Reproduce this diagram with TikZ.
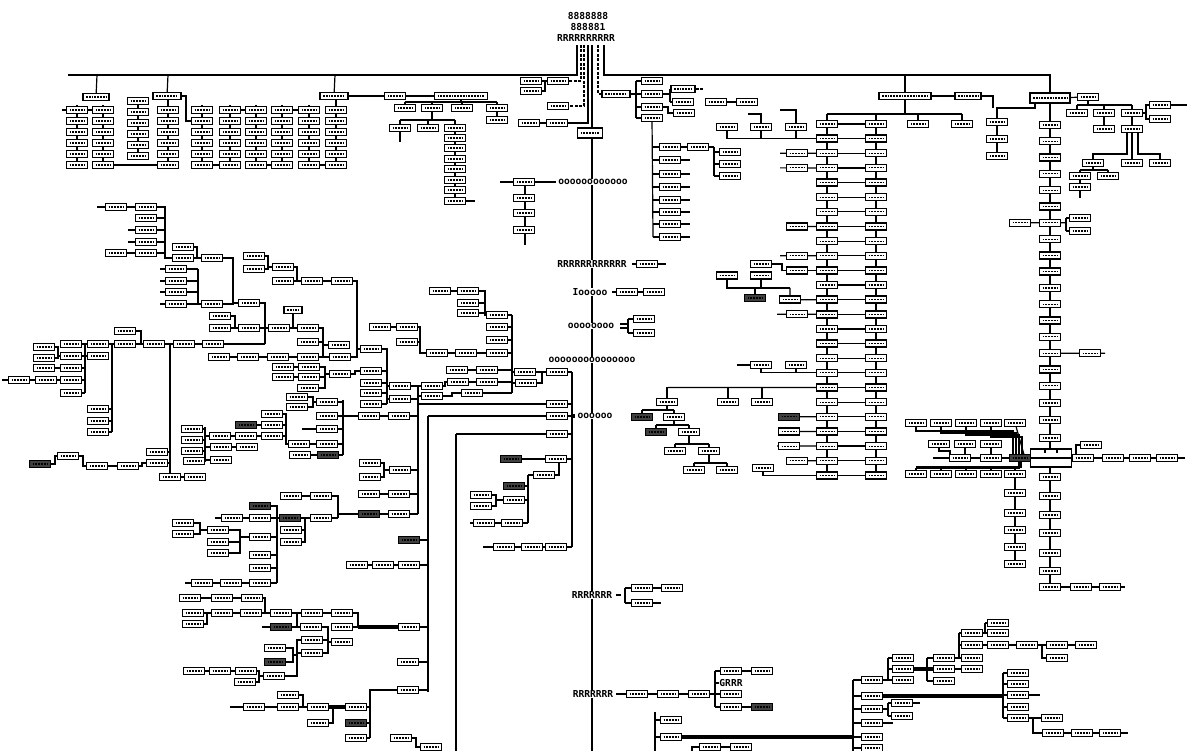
\documentclass[tikz,border=0pt]{standalone}
\usepackage{fontspec}
\newfontfamily\lf{DejaVu Sans Mono}
\pgfdeclarelayer{bg}
\pgfsetlayers{bg,main}
\tikzset{
  bx/.style={draw,line width=1.4pt,minimum width=21pt,minimum height=7pt,inner sep=0pt,fill=white,
    path picture={\draw[line width=1.1pt,dash pattern=on 1.8pt off 1pt]
      ([xshift=3pt]path picture bounding box.west) -- ([xshift=-3pt]path picture bounding box.east);}},
  dk/.style={bx,fill=black!75},
  pl/.style={draw,line width=1.4pt,fill=white,inner sep=0pt},
  ln/.style={line width=1.2pt},
  dl/.style={line width=1.2pt,dash pattern=on 3pt off 1.5pt},
  tk/.style={line width=3.8pt},
  lab/.style={font=\lf\bfseries\fontsize{9.6}{10}\selectfont,inner sep=0.6pt,fill=white},
}
\newcommand\Bx[3]{\node[bx] (#1) at (#2,#3) {};}
\newcommand\Dk[3]{\node[dk] (#1) at (#2,#3) {};}
\newcommand\Wb[4]{\node[bx,minimum width=#4pt] (#1) at (#2,#3) {};}
\begin{document}
\begin{tikzpicture}[x=1pt,y=-1pt]
\useasboundingbox (0,0) rectangle (1187,751);
% ---------------- labels
\node[lab] (t1) at (588,16) {8888888};
\node[lab] (t2) at (588,27) {888881};
\node[lab] (t3) at (586,38) {RRRRRRRRRR};
\node[lab] (L1) at (593,182) {oooooooooooo};
\node[lab] (L2) at (592,264) {RRRRRRRRRRRR};
\node[lab] (L3) at (590,292) {Iooooo};
\node[lab] (L4) at (591,326) {oooooooo};
\node[lab] (L5) at (592,360) {ooooooooooooooo};
\node[lab] (L6) at (595,416) {oooooo};
\node[lab] (L7) at (592,595) {RRRRRRR};
\node[lab] (L8) at (593,694) {RRRRRRR};
\node[lab] (m25) at (731,683) {GRRR};
\fill (571,414) rectangle (575,418);
% ---------------- spine top
\node[bx,minimum width=25pt,minimum height=10pt] (sp0) at (590,133) {};
% ---------------- top-left grid
\Wb{g0}{96}{97}{26}
\foreach \r [count=\i] in {110,121,132,143,154,165}{
  \foreach \c/\xx in {A/77,B/103,D/168,E/202,F/230,G/256,H/282,I/309,J/336}{\Bx{g\c\i}{\xx}{\r}}}
\foreach \r [count=\i] in {101,112,123,134,145,156}{\Bx{gC\i}{138}{\r}}
\Wb{gD}{167}{96}{28}
\Wb{gJ}{334}{96}{28}
\Bx{q1}{395}{96}
\Wb{q2}{461}{96}{53}
\Bx{q3}{405}{108} \Bx{q4}{432}{108} \Bx{q5}{462}{108} \Bx{q6}{497}{108}
\Bx{q7}{400}{128} \Bx{q8}{428}{128} \Bx{q10}{497}{120}
\foreach \r [count=\i] in {128,138,148,159,169,180,190,201}{\Bx{x\i}{455}{\r}}
% ---------------- near spine top
\Bx{c1}{531}{81} \Bx{c2}{558}{81} \Bx{c3}{531}{91} \Bx{c4}{558}{106} \Bx{c5}{529}{123} \Bx{c6}{557}{123}
\Wb{r0}{616}{94}{28}
\foreach \r [count=\i] in {81,94,107,118}{\Bx{r\i}{652}{\r}}
\Wb{r5}{683}{89}{24} \Bx{r6}{683}{102} \Bx{r7}{684}{113}
\Bx{r8}{716}{102} \Bx{r9}{747}{102}
\foreach \r [count=\i] in {147,160,174,187,200,212,224,237}{\Bx{w\i}{670}{\r}}
\Bx{w9}{698}{147}
\Bx{w10}{730}{152} \Bx{w11}{730}{164} \Bx{w12}{730}{176}
% ---------------- right-middle double column
\foreach \k in {0,...,24}{\pgfmathsetmacro\yy{124+14.64*\k}\Bx{P\k}{827}{\yy}\Bx{Q\k}{876}{\yy}}
\Bx{E1}{918}{124} \Bx{E2}{962}{124}
\Bx{u1}{727}{127} \Bx{u2}{761}{127} \Bx{u3}{796}{127}
\Bx{u4}{797}{153.3} \Bx{u5}{797}{167.9} \Bx{u6}{797}{226.5} \Bx{u7}{797}{255.8} \Bx{u8}{797}{270.4}
\Bx{u9}{790}{299.7}
\Bx{u10}{761}{264} \Bx{u11}{761}{275.5} \Bx{u12}{727}{275.5} \Dk{u13}{755}{298}
\Bx{u14}{797}{314.3}
\Bx{u15}{761}{365} \Bx{u16}{796}{365}
\Dk{u17}{789}{416.8} \Bx{u18}{789}{431.4} \Bx{u19}{789}{446.1} \Bx{u20}{797}{460.7}
\Bx{v1}{667}{402} \Bx{v2}{728}{402} \Bx{v3}{762}{402}
\Dk{v4}{642}{417} \Bx{v5}{674}{417} \Dk{v6}{656}{432} \Bx{v7}{689}{432}
\Bx{v8}{675}{451} \Bx{v9}{709}{451} \Bx{v10}{694}{470} \Bx{v11}{727}{470} \Bx{v12}{763}{468}
% ---------------- right column
\Wb{f0}{905}{96}{52} \Wb{f1}{968}{96}{26}
\node[bx,minimum width=40pt,minimum height=10pt] (RH) at (1050,98) {};
\foreach \r [count=\i] in {122,139,156}{\Bx{y\i}{997}{\r}}
\foreach \k in {0,...,16}{\pgfmathsetmacro\yy{125+16.3*\k}\Bx{R\k}{1050}{\yy}}
\Bx{R17}{1050}{403} \Bx{R18}{1050}{420} \Bx{R19}{1050}{438}
\node[pl,minimum width=41pt,minimum height=18pt] (RB) at (1051,458) {};
\foreach \r [count=\i from 20] in {477,496,515,533,553,571,587}{\Bx{R\i}{1050}{\r}}
\Bx{f5}{1088}{97} \Bx{f6}{1077}{113} \Bx{f7}{1104}{113} \Bx{f8}{1132}{113}
\Bx{f9}{1160}{105} \Bx{f10}{1160}{119} \Bx{f11}{1104}{129} \Bx{f12}{1132}{129}
\Bx{f13}{1093}{163} \Bx{f14}{1132}{163} \Bx{f15}{1160}{163}
\Bx{f16}{1080}{176} \Bx{f17}{1108}{176} \Bx{f18}{1080}{187}
\Bx{f19}{1020}{222.8} \Bx{f20}{1080}{218} \Bx{f21}{1080}{231}
\Bx{f22}{1090}{353.2}
\Dk{f23}{1020}{458} \Bx{f24}{991}{458} \Bx{f25}{960}{458}
\Bx{f26}{1083}{458} \Bx{f27}{1091}{445} \Bx{f28}{1113}{458} \Bx{f29}{1140}{458} \Bx{f30}{1167}{458}
\Bx{f31}{939}{444} \Bx{f32}{965}{444} \Bx{f33}{991}{444}
\Bx{f34}{916}{423} \Bx{f35}{941}{423} \Bx{f36}{966}{423} \Bx{f37}{991}{423} \Bx{f38}{1015}{423}
\Bx{f39}{916}{474} \Bx{f40}{941}{474} \Bx{f41}{966}{474} \Bx{f42}{991}{474} \Bx{f43}{1015}{474}
\foreach \r [count=\i from 44] in {493,513,530,547,564}{\Bx{f\i}{1015}{\r}}
\Bx{f49}{1081}{587} \Bx{f50}{1110}{587}
% ---------------- spine attachments
\Bx{m1}{524}{182} \Bx{m2}{524}{198} \Bx{m3}{524}{213} \Bx{m4}{524}{230}
\Bx{m5}{647}{264} \Bx{m6}{627}{292} \Bx{m7}{654}{292} \Bx{m8}{644}{319} \Bx{m9}{644}{333}
\Bx{m10}{642}{588} \Bx{m11}{642}{603} \Bx{m12}{672}{588}
\Bx{m13}{637}{694} \Bx{m14}{668}{694} \Bx{m15}{699}{694}
\Bx{m16}{731}{671} \Bx{m17}{762}{671} \Bx{m18}{731}{694} \Bx{m19}{731}{707} \Dk{m20}{762}{707}
\Bx{m21}{671}{720} \Bx{m22}{671}{737} \Bx{m23}{710}{747} \Bx{m24}{741}{747}
% ---------------- bottom right
\Bx{n1}{872}{680} \Bx{n2}{872}{696} \Bx{n3}{872}{709} \Bx{n4}{872}{723} \Bx{n5}{872}{737} \Bx{n6}{872}{748}
\Bx{n7}{902}{703} \Bx{n8}{902}{716}
\Bx{n9}{903}{658} \Bx{n10}{903}{669} \Bx{n11}{903}{680}
\Bx{n12}{944}{658} \Bx{n13}{944}{669} \Bx{n14}{944}{681}
\Bx{n15}{972}{658} \Bx{n16}{972}{633} \Bx{n17}{972}{645} \Bx{n18}{998}{623} \Bx{n19}{998}{633}
\Bx{n20}{998}{645} \Bx{n21}{1027}{645} \Bx{n22}{1057}{645} \Bx{n23}{1086}{645} \Bx{n24}{1057}{658}
\Bx{n25}{972}{669}
\foreach \r [count=\i from 26] in {673,684,695,707,718}{\Bx{n\i}{1018}{\r}}
\Bx{n31}{1052}{718} \Bx{n32}{1053}{733} \Bx{n33}{1082}{733} \Bx{n34}{1110}{733}
% ---------------- left-middle
\Bx{a1}{116}{207} \Bx{a2}{146}{207}
\foreach \r [count=\i from 3] in {218,230,242,253}{\Bx{a\i}{146}{\r}}
\Bx{a7}{116}{253}
\Bx{a8}{183}{247} \Bx{a9}{183}{258} \Bx{a10}{212}{258} \Bx{a11}{249}{303}
\foreach \r [count=\i from 12] in {269,281,292,304}{\Bx{a\i}{176}{\r}}
\Bx{a16}{212}{304}
\Bx{a17}{220}{316} \Bx{a18}{220}{328} \Bx{a19}{249}{328} \Bx{a20}{279}{328} \Bx{a21}{308}{328}
\node[bx,minimum width=18pt] (a22) at (293,310) {};
\Bx{a23}{219}{357} \Bx{a24}{248}{357} \Bx{a25}{278}{357} \Bx{a26}{308}{357} \Bx{a27}{340}{357}
\Bx{a28}{308}{342} \Bx{a29}{339}{345}
\Bx{b1}{254}{256} \Bx{b2}{254}{269} \Bx{b3}{283}{267} \Bx{b4}{283}{281} \Bx{b5}{312}{281} \Bx{b6}{342}{281} \Bx{b7}{371}{349}
\Bx{k1}{440}{291} \Bx{k2}{468}{291} \Bx{k3}{468}{303} \Bx{k4}{468}{313} \Bx{k5}{497}{315} \Bx{k6}{497}{327} \Bx{k7}{497}{340} \Bx{k8}{497}{353}
\Bx{k9}{380}{327} \Bx{k10}{407}{327} \Bx{k11}{407}{342} \Bx{k12}{437}{353} \Bx{k13}{466}{353}
\Bx{k14}{457}{370} \Bx{k15}{487}{370} \Bx{k16}{458}{382} \Bx{k17}{487}{382} \Bx{k18}{472}{393}
\Bx{k19}{525}{372} \Bx{k20}{557}{372} \Bx{k21}{526}{383}
\foreach \xx [count=\i] in {71,98,125,154,184,213}{\Bx{e\i}{\xx}{344}}
\Bx{e7}{125}{331}
\Bx{e8}{98}{409} \Bx{e9}{98}{421} \Bx{e10}{98}{432}
\Bx{e11}{44}{347} \Bx{e12}{44}{358} \Bx{e13}{44}{368} \Bx{e14}{71}{356} \Bx{e15}{71}{368} \Bx{e16}{98}{356}
\Bx{e17}{19}{380} \Bx{e18}{46}{380} \Bx{e19}{71}{380} \Bx{e20}{71}{393}
\Dk{e21}{40}{464} \Bx{e22}{68}{456} \Bx{e23}{97}{466} \Bx{e24}{128}{466} \Bx{e25}{157}{452} \Bx{e26}{157}{463} \Bx{e27}{170}{477} \Bx{e28}{195}{477}
\Bx{h1}{192}{429} \Bx{h2}{192}{440} \Bx{h3}{192}{451} \Bx{h4}{194}{461}
\Bx{h5}{220}{436} \Bx{h6}{221}{447} \Bx{h7}{221}{460}
\Dk{h8}{246}{425} \Bx{h9}{272}{425} \Bx{h10}{246}{436} \Bx{h11}{272}{436} \Bx{h12}{247}{447} \Bx{h13}{272}{414}
\Bx{h14}{299}{444} \Bx{h15}{327}{444} \Bx{h16}{300}{455} \Dk{h17}{328}{455}
\Bx{h18}{297}{397} \Bx{h19}{297}{407} \Bx{h20}{327}{402} \Bx{h21}{327}{416} \Bx{h22}{369}{416} \Bx{h23}{399}{416} \Bx{h24}{327}{429}
\Bx{i1}{283}{367} \Bx{i2}{309}{367} \Bx{i3}{283}{377} \Bx{i4}{309}{377} \Bx{i5}{340}{374} \Bx{i6}{308}{388}
\Bx{i7}{371}{371} \Bx{i8}{371}{383} \Bx{i9}{371}{393} \Bx{i10}{371}{404}
\Bx{i11}{400}{386} \Bx{i12}{400}{399} \Bx{i13}{432}{386} \Bx{i14}{432}{396}
\Bx{j1}{557}{404} \Bx{j2}{557}{416} \Bx{j3}{557}{434} \Dk{j4}{511}{459} \Bx{j5}{556}{459} \Bx{j6}{544}{475}
\Dk{j7}{514}{486} \Bx{j8}{481}{495} \Bx{j9}{481}{506} \Bx{j10}{514}{500} \Bx{j11}{484}{523} \Bx{j12}{512}{523}
\Bx{j13}{504}{547} \Bx{j14}{532}{547} \Bx{j15}{556}{547}
% ---------------- lower-left
\Bx{o1}{369}{494} \Bx{o2}{399}{494} \Dk{o3}{369}{514} \Bx{o4}{399}{514}
\Dk{o5}{409}{540} \Bx{o6}{357}{565} \Bx{o7}{383}{565} \Bx{o8}{409}{565}
\Bx{o9}{291}{496} \Bx{o10}{321}{496} \Dk{o11}{260}{506}
\Bx{o12}{232}{518} \Bx{o13}{260}{518} \Dk{o14}{290}{518} \Bx{o15}{321}{518}
\Bx{o16}{291}{530} \Bx{o17}{291}{542}
\Bx{o18}{260}{537} \Bx{o19}{260}{555} \Bx{o20}{260}{568} \Bx{o23}{260}{583}
\Bx{o21}{183}{523} \Bx{o22}{183}{534} \Bx{o24}{218}{530} \Bx{o25}{218}{542} \Bx{o26}{218}{553}
\Bx{o27}{202}{583} \Bx{o28}{231}{583}
\Bx{o29}{190}{598} \Bx{o30}{222}{598} \Bx{o31}{252}{598}
\Bx{o32}{193}{613} \Bx{o33}{222}{613} \Bx{o34}{251}{613} \Bx{o35}{193}{624}
\Bx{o36}{281}{613} \Bx{o37}{312}{613} \Bx{o38}{342}{613}
\Bx{o39}{409}{627} \Bx{o40}{342}{627} \Dk{o41}{281}{627} \Bx{o42}{311}{627}
\Bx{o43}{342}{642} \Bx{o44}{312}{640} \Bx{o45}{312}{653} \Bx{o46}{275}{648} \Dk{o47}{275}{662}
\Bx{o48}{194}{671} \Bx{o49}{220}{671} \Bx{o50}{246}{671} \Bx{o51}{245}{682} \Bx{o52}{274}{676}
\Bx{o53}{408}{662} \Bx{o54}{408}{690}
\Bx{o55}{356}{707} \Dk{o56}{356}{723} \Bx{o57}{356}{738}
\Bx{o58}{318}{707} \Bx{o59}{288}{695} \Bx{o60}{288}{707} \Bx{o61}{254}{707} \Bx{o62}{318}{723}
\Bx{o63}{401}{738} \Bx{o64}{431}{747}
\Bx{p1}{400}{470} \Bx{p2}{370}{463} \Bx{p3}{370}{477}
% big box internals
\draw[ln] (RB.west) -- (RB.east);
\draw[ln] (1045,449) -- (1045,453); \draw[ln] (1057,449) -- (1057,453);
% ================= connectors (behind boxes)
\begin{pgfonlayer}{bg}
% header lines
\draw[ln] (577,45) -- (577,75) -- (68,75);
\draw[dl] (581,45) -- (581,81) -- (c2);
\draw[dl] (584,45) -- (584,106) -- (c4);
\draw[ln] (588,45) -- (588,123) -- (c6);
\draw[ln] (592,45) -- (592,751);
\draw[dl] (598,45) -- (598,94) -- (r0);
\draw[ln] (604,45) -- (604,75) -- (1050,75) -- (RH);
\draw[ln] (905,75) -- (f0);
\draw[ln] (97,75) -- (g0);
\draw[ln] (168,75) -- (gD);
\draw[ln] (335,75) -- (gJ);
% grid
\foreach \xx in {77,103,202,230,256,282,309}{\draw[ln] (\xx,105) -- (\xx,165);}
\draw[ln] (336,96) -- (336,165); \draw[ln] (168,96) -- (168,165); \draw[ln] (138,97) -- (138,156);
\draw[ln] (62,110) -- (gB1);
\draw[ln] (gF1) -- (gG1); \draw[ln] (gH1) -- (gI1);
\draw[ln] (gE6) -- (gF6); \draw[ln] (gG6) -- (gH6); \draw[ln] (gI6) -- (gJ6);
\draw[ln] (gB6) -- (gD6);
\draw[ln] (gD) -- (186,96) -- (186,121) -- (gE2);
\draw[ln] (gJ) -- (q1) -- (q2);
\draw[ln] (q2) -- (461,102); \draw[ln] (405,102) -- (497,102);
\draw[ln] (q3) -- (405,102); \draw[ln] (q4) -- (432,102); \draw[ln] (q5) -- (462,102); \draw[ln] (q6) -- (497,102);
\draw[ln] (q6) -- (q10);
\draw[ln] (q4) -- (432,120); \draw[ln] (400,120) -- (455,120);
\draw[ln] (q7) -- (400,120); \draw[ln] (q8) -- (428,120); \draw[ln] (x1) -- (455,120);
\draw[ln] (q7) -- (400,142);
\draw[ln] (x1) -- (x8) -- (475,201);
% near spine top
\draw[ln] (c1) -- (c2); \draw[ln] (c3) -- (545,91) -- (545,81); \draw[ln] (c5) -- (c6);
\draw[ln] (r0) -- (r2); \draw[ln] (636,81) -- (636,118);
\draw[ln] (636,81) -- (r1); \draw[ln] (636,107) -- (r3); \draw[ln] (636,118) -- (r4);
\draw[ln] (r2) -- (670,94); \draw[ln] (670,89) -- (670,102); \draw[ln] (670,89) -- (r5); \draw[ln] (670,102) -- (r6);
\draw[dl] (r5) -- (703,89);
\draw[ln] (r3) -- (668,107) -- (668,113) -- (r7);
\draw[ln] (r8) -- (r9);
\draw[ln] (r4) -- (653,237);
\foreach \i in {1,...,8}{\draw[ln] (w\i) -- ++(-17,0);}
\foreach \i in {2,...,8}{\draw[ln] (w\i) -- ++(20,0);}
\draw[ln] (w1) -- (w9) -- (714,147); \draw[ln] (714,147) -- (714,176);
\draw[ln] (714,152) -- (w10); \draw[ln] (714,164) -- (w11); \draw[ln] (714,176) -- (w12);
% double column
\draw[ln] (827,114) -- (P24); \draw[ln] (876,114) -- (Q24);
\foreach \k in {0,...,24}{\draw[ln] (P\k) -- (Q\k);}
\draw[ln] (827,114) -- (962,114); \draw[ln] (f0) -- (905,114);
\draw[ln] (918,114) -- (E1); \draw[ln] (962,114) -- (E2);
\draw[ln] (u1) |- (P1); \draw[ln] (u2) -- (u2 |- P1); \draw[ln] (u3) -- (u3 |- P1);
\draw[ln] (u2) -- (761,114) -- (748,114); \draw[ln] (u3) -- (796,110) -- (780,110);
\draw[ln] (780,153.3) -- (P2); \draw[ln] (780,167.9) -- (P3);
\draw[ln] (u6) -- (P7); \draw[ln] (780,255.8) -- (P9);
\draw[ln] (u10) -- (782,264) -- (782,270.4) -- (P10);
\draw[ln] (u12) -- (727,288) -- (790,288); \draw[ln] (u11) -- (761,288);
\draw[ln] (755,288) -- (u13); \draw[ln] (790,288) -- (u9) -- (P12);
\draw[ln] (777,314.3) -- (P13);
\draw[ln] (737,365) -- (u15); \draw[ln] (u15) |- (P17); \draw[ln] (u16) -- (u16 |- P17);
\draw[ln] (668,387.5) -- (P18);
\draw[ln] (v1) -- (667,387.5); \draw[ln] (v2) -- (728,387.5); \draw[ln] (v3) -- (762,387.5);
\draw[ln] (u17) -- (P20); \draw[ln] (u18) -- (P21); \draw[ln] (777,446.1) -- (P22); \draw[ln] (u20) -- (P23);
\draw[ln] (v12) |- (P24);
\draw[ln] (v1) -- (667,410); \draw[ln] (642,410) -- (674,410); \draw[ln] (642,410) -- (v4); \draw[ln] (674,410) -- (v5);
\draw[ln] (v5) -- (674,425); \draw[ln] (656,425) -- (689,425); \draw[ln] (656,425) -- (v6); \draw[ln] (689,425) -- (v7);
\draw[ln] (v7) -- (689,444); \draw[ln] (675,444) -- (709,444); \draw[ln] (675,444) -- (v8); \draw[ln] (709,444) -- (v9);
\draw[ln] (v9) -- (709,463); \draw[ln] (694,463) -- (727,463); \draw[ln] (694,463) -- (v10); \draw[ln] (727,463) -- (v11);
% right column
\draw[ln] (f0) -- (f1) -- (993,96) -- (993,108);
\draw[ln] (1035,98) -- (1035,108) -- (997,108) -- (y3);
\draw[ln] (1050,98) -- (R26);
\draw[ln] (RH) -- (f5); \draw[ln] (f5) -- (1088,105); \draw[ln] (1077,105) -- (1132,105);
\draw[ln] (1077,105) -- (f6); \draw[ln] (1104,105) -- (f7); \draw[ln] (1132,105) -- (f8);
\draw[ln] (f8) -- (1146,113) -- (1146,105) -- (f9) -- (1187,105); \draw[ln] (1146,113) -- (1146,119) -- (f10);
\draw[ln] (f7) -- (f11); \draw[ln] (f8) -- (f12);
\draw[ln] (1127,129) -- (1127,154) -- (1093,154) -- (f13); \draw[ln] (f12) -- (f14);
\draw[ln] (1138,129) -- (1138,154) -- (1160,154) -- (f15);
\draw[ln] (f13) -- (1093,170); \draw[ln] (1080,170) -- (1108,170); \draw[ln] (1080,170) -- (f16); \draw[ln] (1108,170) -- (f17);
\draw[ln] (f16) -- (f18) -- (1080,198);
\draw[ln] (f19) -- (R6); \draw[ln] (R6) -- (1066,222.8); \draw[ln] (1066,218) -- (1066,231);
\draw[ln] (1066,218) -- (f20); \draw[ln] (1066,231) -- (f21);
\draw[ln] (R14) -- (f22) -- (1105,353.2);
\draw[ln] (933,458) -- (f25) -- (f24) -- (f23) -- (RB) -- (f26) -- (f28) -- (f29) -- (f30) -- (1185,458);
\draw[ln] (f27) -- (1076,445) -- (1076,458);
\draw[ln] (f31) -- (939,451) -- (950,451) -- (950,458); \draw[ln] (f32) -- (965,458); \draw[ln] (f33) -- (991,458);
\draw[ln] (f34) -- (916,431) -- (1013,431) -- (1013,458);
\draw[ln] (f35) -- (941,433) -- (1016,433) -- (1016,458);
\draw[ln] (f36) -- (966,435) -- (1019,435) -- (1019,458);
\draw[ln] (f37) -- (991,437) -- (1022,437) -- (1022,458);
\draw[ln] (f38) -- (1025,458);
\draw[tk] (916,467.5) -- (1020,467.5); \draw[tk] (f23) -- (1020,467.5);
\foreach \xx in {916,941,966,991,1015}{\draw[ln] (\xx,474) -- (\xx,467.5);}
\draw[ln] (f43) -- (f48);
\draw[ln] (R26) -- (f49) -- (f50) -- (1125,587);
% spine attachments
\draw[ln] (500,182) -- (m1) -- (556,182); \draw[ln] (525,182) -- (525,245);
\draw[ln] (632,264) -- (m5) -- (666,264);
\draw[ln] (612,292) -- (m6) -- (m7);
\draw[ln] (620,324) -- (628,324); \draw[ln] (620,328) -- (628,328); \draw[ln] (628,319) -- (628,333);
\draw[ln] (628,319) -- (m8); \draw[ln] (628,333) -- (m9);
\draw[ln] (616,595) -- (621,595); \draw[ln] (625,588) -- (625,603);
\draw[ln] (625,588) -- (m10) -- (m12); \draw[ln] (625,603) -- (m11) -- (661,603);
\draw[ln] (616,694) -- (m13) -- (m14) -- (m15) -- (715,694); \draw[ln] (715,671) -- (715,707);
\draw[ln] (715,671) -- (m16) -- (m17); \draw[ln] (715,683) -- (m25); \draw[ln] (715,694) -- (m18);
\draw[ln] (715,707) -- (m19) -- (m20);
\draw[ln] (655,712) -- (655,751); \draw[ln] (655,720) -- (m21); \draw[ln] (655,737) -- (m22);
\draw[tk] (m22) -- (853,737);
\draw[ln] (692,751) -- (692,747) -- (m23) -- (m24);
% bottom right
\draw[ln] (853,680) -- (853,751);
\draw[ln] (853,680) -- (n1); \draw[ln] (853,696) -- (n2); \draw[ln] (853,709) -- (n3);
\draw[ln] (853,723) -- (n4); \draw[ln] (853,737) -- (n5); \draw[ln] (853,748) -- (n6);
\draw[tk] (n2) -- (1003,696);
\draw[ln] (n3) -- (888,709); \draw[ln] (888,703) -- (888,716); \draw[ln] (888,703) -- (n7) -- (920,703); \draw[ln] (888,716) -- (n8);
\draw[ln] (n4) -- (893,723);
\draw[ln] (n1) -- (888,680); \draw[ln] (888,658) -- (888,680);
\draw[ln] (888,658) -- (n9); \draw[ln] (888,669) -- (n10); \draw[ln] (888,680) -- (n11);
\draw[tk] (n10) -- (927,669) -- (n13); \draw[ln] (927,658) -- (927,681);
\draw[ln] (927,658) -- (n12); \draw[ln] (927,681) -- (n14);
\draw[ln] (n12) -- (n15); \draw[ln] (959,633) -- (959,658); \draw[ln] (959,633) -- (n16); \draw[ln] (959,645) -- (n17);
\draw[ln] (n16) -- (n19); \draw[ln] (985,623) -- (985,633); \draw[ln] (985,623) -- (n18);
\draw[ln] (n17) -- (n20) -- (n21) -- (n22) -- (n23); \draw[ln] (1042,645) -- (1042,658) -- (n24);
\draw[ln] (n13) -- (n25);
\draw[ln] (1003,673) -- (1003,718);
\draw[ln] (1003,673) -- (n26); \draw[ln] (1003,684) -- (n27); \draw[ln] (1003,695) -- (n28); \draw[ln] (1003,707) -- (n29); \draw[ln] (1003,718) -- (n30);
\draw[ln] (n28) -- (1040,695);
\draw[ln] (n30) -- (n31); \draw[ln] (1033,718) -- (1033,733) -- (n32) -- (n33) -- (n34) -- (1128,733);
% left-middle
\draw[ln] (97,207) -- (a1) -- (a2) -- (165,207) -- (165,258) -- (a9) -- (a10) -- (233,258) -- (233,304) -- (a16);
\draw[ln] (233,303) -- (a11) -- (265,303) -- (265,344);
\foreach \i in {3,4,5,6}{\draw[ln] (a\i) -- ++(19,0);}
\draw[ln] (128,230) -- (a4); \draw[ln] (128,242) -- (a5); \draw[ln] (a7) -- (a6);
\draw[ln] (a8) -- (197,247) -- (197,258);
\foreach \i in {12,...,15}{\draw[ln] (a\i) -- ++(22,0); \draw[ln] (a\i) -- ++(-16,0);}
\draw[ln] (198,269) -- (198,304) -- (a16);
\draw[ln] (a17) -- (235,316) -- (235,328);
\draw[ln] (a18) -- (a19) -- (a20) -- (a21) -- (323,328) -- (323,357);
\draw[ln] (a22) -- (293,328);
\draw[ln] (a23) -- (a24) -- (a25) -- (a26) -- (a27);
\draw[ln] (a28) -- (323,342); \draw[ln] (323,345) -- (a29);
\draw[ln] (b1) -- (268,256) -- (268,269) -- (b2); \draw[ln] (268,267) -- (b3) -- (297,267) -- (297,281);
\draw[ln] (b4) -- (b5) -- (b6) -- (357,281) -- (357,357) -- (a27);
\draw[ln] (357,349) -- (b7) -- (387,349) -- (387,404);
\draw[ln] (k1) -- (k2) -- (485,291) -- (485,315) -- (k5);
\draw[ln] (k3) -- (485,303); \draw[ln] (k4) -- (485,313);
\draw[ln] (512,315) -- (512,393);
\foreach \i in {5,6,7,8}{\draw[ln] (k\i) -- ++(15,0);}
\draw[ln] (k9) -- (k10) -- (420,327) -- (420,353) -- (k12) -- (k13) -- (k8); \draw[ln] (k11) -- (420,342);
\draw[ln] (k14) -- (k15) -- (512,370); \draw[ln] (k16) -- (k17) -- (512,382); \draw[ln] (k18) -- (512,393);
\draw[ln] (512,372) -- (k19) -- (542,372) -- (542,383) -- (k21) -- (512,383);
\draw[ln] (542,372) -- (k20) -- (572,372);
\draw[ln] (572,372) -- (572,547);
\draw[ln] (e1) -- (e2) -- (e3) -- (e4) -- (e5) -- (e6) -- (265,344);
\draw[ln] (e7) -- (141,331) -- (141,344);
\draw[ln] (112,344) -- (112,432); \draw[ln] (e8) -- (112,409); \draw[ln] (e9) -- (112,421); \draw[ln] (e10) -- (112,432);
\draw[ln] (170,344) -- (e27);
\draw[ln] (85,344) -- (85,393); \draw[ln] (e14) -- (85,356) -- (e16); \draw[ln] (e15) -- (85,368);
\draw[ln] (e19) -- (85,380); \draw[ln] (e20) -- (85,393);
\draw[ln] (e11) -- (58,347) -- (58,358) -- (e12); \draw[ln] (58,356) -- (e14);
\draw[ln] (e13) -- (e15);
\draw[ln] (2,380) -- (e17) -- (e18) -- (e19);
\draw[ln] (e21) -- (55,464) -- (55,456) -- (e22) -- (83,456) -- (83,466) -- (e23) -- (e24) -- (142,466) -- (142,463) -- (e26);
\draw[ln] (e25) -- (170,452); \draw[ln] (e26) -- (170,463); \draw[ln] (e27) -- (e28);
\draw[ln] (205,427) -- (205,461);
\draw[ln] (h1) -- (205,429); \draw[ln] (h2) -- (205,440); \draw[ln] (h3) -- (205,451); \draw[ln] (h4) -- (205,461);
\draw[ln] (205,436) -- (h5) -- (h10) -- (h11) -- (286,436) -- (286,444) -- (h14) -- (h15) -- (343,444);
\draw[ln] (205,447) -- (h6) -- (h12); \draw[ln] (205,460) -- (h7);
\draw[ln] (h8) -- (h9) -- (286,425); \draw[ln] (h13) -- (286,414) -- (286,436);
\draw[ln] (h16) -- (h17) -- (343,455); \draw[ln] (343,400) -- (343,455);
\draw[ln] (h18) -- (313,397) -- (313,407) -- (h19); \draw[ln] (313,402) -- (h20) -- (343,402);
\draw[ln] (h21) -- (h22) -- (h23) -- (418,416);
\draw[ln] (h24) -- (343,429); \draw[line width=2.2pt] (302,429) -- (h24);
\draw[ln] (i1) -- (i2) -- (325,367) -- (325,388) -- (i6); \draw[ln] (i3) -- (i4) -- (325,377);
\draw[ln] (325,374) -- (i5) -- (355,374) -- (355,371) -- (i7) -- (387,371);
\draw[ln] (i8) -- (387,383); \draw[ln] (i9) -- (387,393); \draw[ln] (i10) -- (387,404);
\draw[ln] (387,386) -- (i11) -- (i13); \draw[ln] (387,399) -- (i12) -- (418,399);
\draw[ln] (418,386) -- (418,514);
\draw[ln] (418,396) -- (i14);
\draw[ln] (i13) -- (445,386) -- (445,382) -- (k16); \draw[ln] (i14) -- (452,396) -- (452,393) -- (k18);
\draw[ln] (418,404) -- (j1) -- (572,404);
\draw[ln] (428,416) -- (j2) -- (572,416);
\draw[ln] (456,434) -- (j3) -- (572,434);
\draw[ln] (428,416) -- (428,692);
\draw[ln] (456,434) -- (456,751);
\draw[ln] (j4) -- (j5) -- (572,459); \draw[ln] (528,475) -- (528,523); \draw[ln] (528,475) -- (j6) -- (559,475) -- (559,459);
\draw[ln] (j7) -- (528,486); \draw[ln] (j10) -- (528,500); \draw[ln] (470,523) -- (j11) -- (j12) -- (528,523);
\draw[ln] (j8) -- (496,495) -- (496,506) -- (j9); \draw[ln] (496,500) -- (j10);
\draw[ln] (483,547) -- (j13) -- (j14) -- (j15) -- (572,547);
% lower-left
\draw[ln] (o1) -- (o2) -- (418,494); \draw[ln] (338,514) -- (o3) -- (o4) -- (418,514);
\draw[ln] (o5) -- (428,540); \draw[ln] (o6) -- (o7) -- (o8) -- (428,565);
\draw[ln] (o9) -- (o10) -- (338,496) -- (338,518);
\draw[ln] (215,518) -- (o12) -- (o13) -- (o14) -- (o15) -- (338,518);
\draw[ln] (o16) -- (305,530) -- (305,518); \draw[ln] (o17) -- (305,542) -- (305,530);
\draw[ln] (o11) -- (277,506) -- (277,583);
\draw[ln] (o18) -- (277,537); \draw[ln] (o19) -- (277,555); \draw[ln] (o20) -- (277,568); \draw[ln] (o23) -- (277,583);
\draw[ln] (o21) -- (200,523) -- (200,534) -- (o22); \draw[ln] (200,530) -- (o24) -- (240,530) -- (240,553) -- (o26);
\draw[ln] (o25) -- (240,542); \draw[ln] (240,537) -- (o18);
\draw[ln] (185,583) -- (o27) -- (o28) -- (o23);
\draw[ln] (o29) -- (o30) -- (o31) -- (265,598) -- (265,613);
\draw[ln] (o32) -- (o33) -- (o34) -- (o36) -- (o37) -- (o38) -- (358,613) -- (358,627);
\draw[ln] (207,613) -- (207,624) -- (o35);
\draw[ln] (o40) -- (358,627); \draw[tk] (358,627) -- (o39); \draw[ln] (o39) -- (428,627);
\draw[ln] (262,627) -- (o41) -- (o42) -- (328,627) -- (328,653) -- (o45);
\draw[ln] (297,613) -- (297,627);
\draw[ln] (328,642) -- (o43);
\draw[ln] (o46) -- (293,648) -- (293,662) -- (o47); \draw[ln] (293,655) -- (297,655);
\draw[ln] (o48) -- (o49) -- (o50) -- (259,671) -- (259,682) -- (o51);
\draw[ln] (259,676) -- (o52) -- (297,676) -- (297,640) -- (o44) -- (328,640); \draw[ln] (297,653) -- (o45);
\draw[ln] (o53) -- (428,662); \draw[ln] (370,738) -- (370,690) -- (o54) -- (428,690);
\draw[ln] (o55) -- (370,707); \draw[ln] (o56) -- (370,723); \draw[ln] (o57) -- (370,738);
\draw[ln] (230,707) -- (o61) -- (o60) -- (o58); \draw[tk] (o58) -- (o55);
\draw[ln] (o59) -- (303,695) -- (303,707); \draw[ln] (o62) -- (333,723) -- (333,707);
\draw[ln] (o63) -- (416,738) -- (416,747) -- (o64);
\draw[ln] (p1) -- (418,470); \draw[ln] (p2) -- (384,463) -- (384,477) -- (p3); \draw[ln] (384,470) -- (p1);
\end{pgfonlayer}
\end{tikzpicture}
\end{document}
